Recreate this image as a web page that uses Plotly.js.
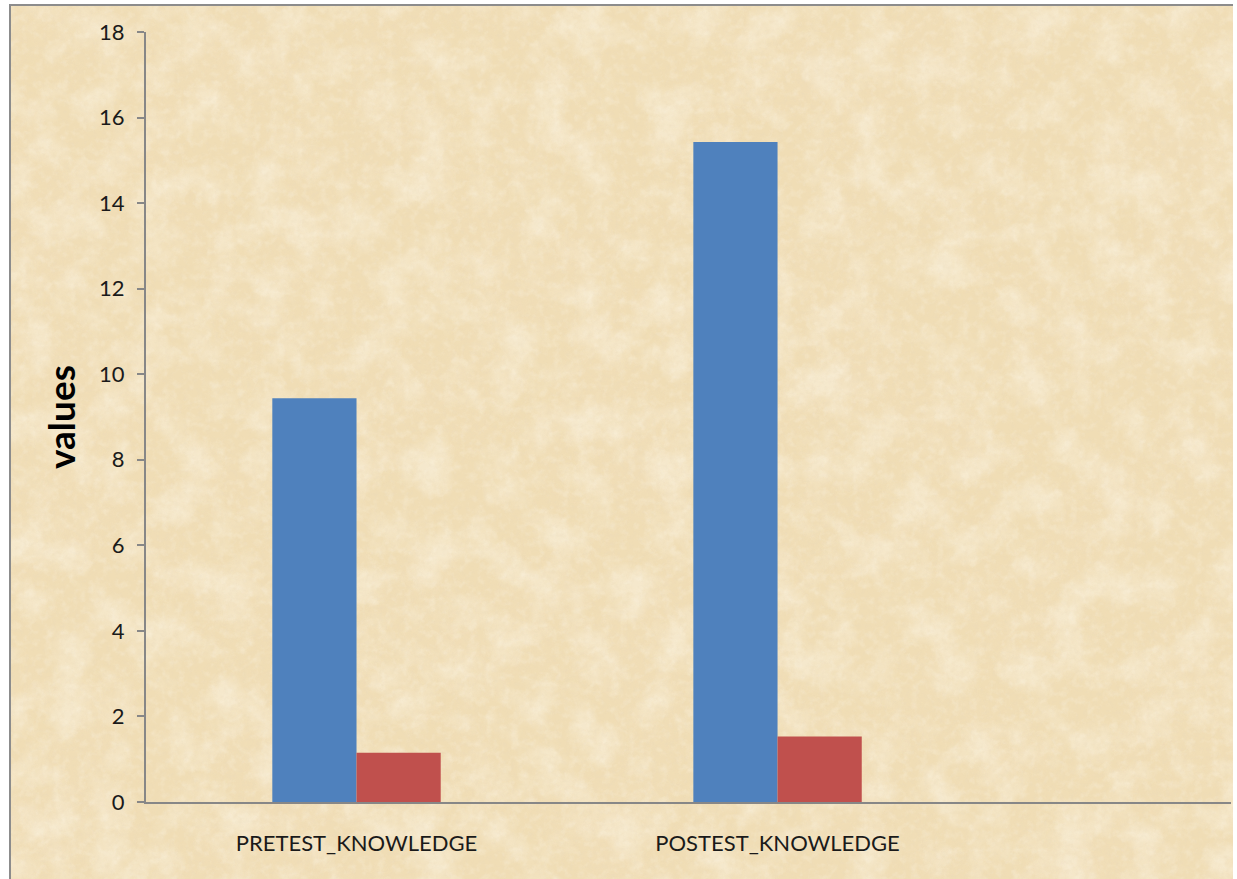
<!DOCTYPE html>
<html>
<head>
<meta charset="utf-8">
<script src="https://cdn.plot.ly/plotly-3.0.1.min.js"></script>
<style>
  html, body { margin: 0; padding: 0; background: #ffffff; }
  #page { position: relative; width: 1237px; height: 879px; overflow: hidden; }
  /* parchment panel behind the chart, with its grey frame on the top and left */
  #panel {
    position: absolute; left: 9px; top: 4px; width: 1222px; height: 900px;
    border-left: 2px solid #8c8c8c; border-top: 2px solid #8c8c8c;
    background-color: #F0DDB5;
  }
  #chart { position: absolute; left: 0; top: 0; width: 1237px; height: 879px; }
</style>
</head>
<body>
<div id="page">
  <div id="panel"></div>
  <div id="chart"></div>
</div>
<script>
// Chart data
const categories = ['PRETEST_KNOWLEDGE', 'POSTEST_KNOWLEDGE'];
const blueValues = [9.44, 15.43];
const redValues = [1.15, 1.53];
const yTicks = [0, 2, 4, 6, 8, 10, 12, 14, 16, 18];

// Mottled parchment texture built from SVG turbulence noise
const textureSvg =
  '<svg xmlns="http://www.w3.org/2000/svg" width="1240" height="900">' +
  '<filter id="a" x="0" y="0" width="100%" height="100%">' +
  '<feTurbulence type="fractalNoise" baseFrequency="0.009" numOctaves="5" seed="7"/>' +
  '<feColorMatrix type="matrix" values="0 0 0 0 0.88  0 0 0 0 0.73  0 0 0 0 0.48  2.8 0 0 0 -1.2"/>' +
  '</filter>' +
  '<filter id="b" x="0" y="0" width="100%" height="100%">' +
  '<feTurbulence type="fractalNoise" baseFrequency="0.025" numOctaves="4" seed="21"/>' +
  '<feColorMatrix type="matrix" values="0 0 0 0 0.98  0 0 0 0 0.93  0 0 0 0 0.81  0 2.6 0 0 -1.1"/>' +
  '</filter>' +
  '<filter id="c" x="0" y="0" width="100%" height="100%">' +
  '<feTurbulence type="fractalNoise" baseFrequency="0.22" numOctaves="3" seed="4"/>' +
  '<feColorMatrix type="matrix" values="0 0 0 0 0.82  0 0 0 0 0.70  0 0 0 0 0.50  0 0 2.0 0 -0.9"/>' +
  '</filter>' +
  '<filter id="d" x="0" y="0" width="100%" height="100%">' +
  '<feTurbulence type="fractalNoise" baseFrequency="0.12" numOctaves="3" seed="11"/>' +
  '<feColorMatrix type="matrix" values="0 0 0 0 0.99  0 0 0 0 0.95  0 0 0 0 0.85  2.0 0 0 0 -0.95"/>' +
  '</filter>' +
  '<rect width="100%" height="100%" fill="#F0DDB5"/>' +
  '<rect width="100%" height="100%" filter="url(#a)" opacity="0.7"/>' +
  '<rect width="100%" height="100%" filter="url(#b)" opacity="0.45"/>' +
  '<rect width="100%" height="100%" filter="url(#c)" opacity="0.35"/>' +
  '<rect width="100%" height="100%" filter="url(#d)" opacity="0.3"/>' +
  '</svg>';
document.getElementById('panel').style.backgroundImage =
  'url("data:image/svg+xml;utf8,' + encodeURIComponent(textureSvg) + '")';

const axisGrey = '#878787';
const fontFamily = 'Lato, "Open Sans", sans-serif';

const traces = [
  {
    type: 'bar', x: categories, y: blueValues, name: 'Series 1',
    marker: { color: '#4F81BD' }, hoverinfo: 'none'
  },
  {
    type: 'bar', x: categories, y: redValues, name: 'Series 2',
    marker: { color: '#C0504D' }, hoverinfo: 'none'
  }
];

const layout = {
  width: 1237, height: 879,
  margin: { l: 146, r: 6, t: 32, b: 77, pad: 0 },
  paper_bgcolor: 'rgba(0,0,0,0)',
  plot_bgcolor: 'rgba(0,0,0,0)',
  showlegend: false,
  barmode: 'group',
  bargap: 0.6,
  bargroupgap: 0,
  xaxis: {
    type: 'category',
    range: [-0.5, 2.077],
    showline: true, linecolor: axisGrey, linewidth: 2,
    showgrid: false, zeroline: false,
    ticks: '',
    tickfont: { family: fontFamily, size: 22, color: '#1a1a1a' },
    ticklabelstandoff: 21,
    fixedrange: true
  },
  yaxis: {
    range: [0, 18],
    tickvals: yTicks,
    ticktext: yTicks.map(String),
    showline: true, linecolor: axisGrey, linewidth: 2,
    showgrid: false, zeroline: false,
    ticks: 'outside', ticklen: 7, tickwidth: 2, tickcolor: axisGrey,
    tickfont: { family: fontFamily, size: 22, color: '#1a1a1a' },
    ticklabelstandoff: 8,
    title: {
      text: 'values',
      font: { family: fontFamily, size: 37, color: '#000000', weight: 'bold' },
      standoff: 12
    },
    fixedrange: true
  }
};

Plotly.newPlot('chart', traces, layout, { displayModeBar: false, staticPlot: true });
</script>
</body>
</html>
